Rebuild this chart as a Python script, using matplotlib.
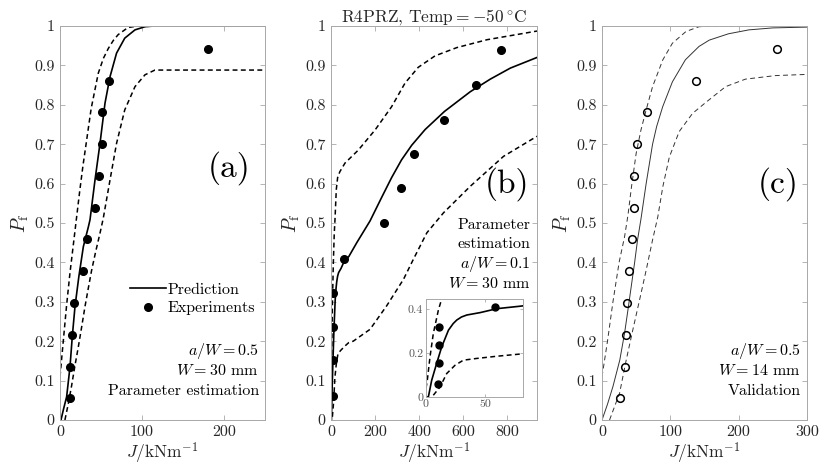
import numpy as np
import matplotlib
matplotlib.use('Agg')
import matplotlib.pyplot as plt

plt.rcParams['font.family'] = 'serif'
plt.rcParams['font.serif'] = ['cmr10']
plt.rcParams['mathtext.fontset'] = 'cm'
plt.rcParams['axes.formatter.use_mathtext'] = True
plt.rcParams['font.size'] = 10

# ---- (a) parameter estimation, a/W = 0.5, W = 30 mm
a_exp_J = [11.8, 12.7, 14.3, 17.1, 27.8, 32.7, 43.3, 47.8, 51.0, 51.4, 60.0, 180.4]
a_exp_P = [0.055, 0.135, 0.216, 0.298, 0.378, 0.459, 0.539, 0.620, 0.700, 0.781, 0.861, 0.942]
a_pred_J = [0, 1.2, 4, 8.1, 12.2, 15, 18.3, 23, 28.5, 34.6, 36.6, 42.7, 48.8, 54.9, 61, 69, 79, 91.5, 103.7, 115.8, 130, 250]
a_pred_P = [0, 0, 0.025, 0.059, 0.135, 0.212, 0.288, 0.364, 0.44, 0.49, 0.508, 0.609, 0.702, 0.804, 0.871, 0.931, 0.969, 0.99, 0.998, 1.0, 1.0, 1.0]
a_up_J = [0, 4, 8, 12, 16, 20, 24, 28, 32.5, 38, 46.7, 53, 59, 65, 71, 83, 95, 250]
a_up_P = [0.11, 0.2, 0.29, 0.37, 0.44, 0.51, 0.58, 0.645, 0.71, 0.79, 0.88, 0.918, 0.943, 0.963, 0.978, 0.996, 1.0, 1.0]
a_lo_J = [6, 10, 14, 18, 22.4, 26.5, 30.5, 34.5, 38.6, 43.5, 48.8, 52.8, 61, 69, 79, 91.5, 103.7, 115.8, 130, 250]
a_lo_P = [0, 0.04, 0.085, 0.135, 0.186, 0.237, 0.288, 0.334, 0.38, 0.427, 0.474, 0.512, 0.609, 0.702, 0.787, 0.846, 0.876, 0.888, 0.888, 0.888]

# ---- (b) parameter estimation, a/W = 0.1, W = 30 mm
b_exp_J = [10, 11, 11, 11, 58, 240, 318, 375, 515, 658, 772]
b_exp_P = [0.061, 0.153, 0.237, 0.321, 0.409, 0.500, 0.588, 0.674, 0.762, 0.850, 0.938]
b_pred_J = [0, 2, 4.8, 9, 13.3, 19, 23, 26, 30, 34.5, 45.8, 60, 81, 117, 177, 230, 275, 320, 366, 427, 515, 632, 723, 814, 935]
b_pred_P = [0, 0, 0.076, 0.153, 0.229, 0.305, 0.335, 0.351, 0.365, 0.374, 0.385, 0.403, 0.415, 0.45, 0.505, 0.565, 0.615, 0.66, 0.697, 0.737, 0.783, 0.833, 0.865, 0.893, 0.92]
b_up_J = [0, 1.1, 3.4, 6.2, 10.5, 14.7, 18, 24, 30, 40, 63.5, 124, 200, 275, 336, 396, 472, 571, 708, 935]
b_up_P = [0.04, 0.076, 0.183, 0.29, 0.397, 0.473, 0.508, 0.585, 0.615, 0.63, 0.652, 0.685, 0.736, 0.795, 0.855, 0.895, 0.924, 0.945, 0.965, 0.987]
b_lo_J = [6.2, 11.9, 17.5, 24.6, 31.6, 43, 60, 79.7, 101, 177, 253, 329, 374, 435, 511, 632, 783, 935]
b_lo_P = [0.008, 0.046, 0.107, 0.145, 0.168, 0.176, 0.186, 0.196, 0.2, 0.23, 0.29, 0.357, 0.408, 0.475, 0.526, 0.593, 0.669, 0.72]

# ---- (c) validation, a/W = 0.5, W = 14 mm
c_exp_J = [26.7, 34.0, 34.5, 36.9, 39.8, 43.2, 46.6, 46.6, 51.5, 65.5, 137.0, 256.0]
c_exp_P = [0.055, 0.135, 0.216, 0.298, 0.378, 0.459, 0.539, 0.620, 0.700, 0.781, 0.861, 0.942]
c_pred_J = [0, 8, 16, 26, 33, 38, 42.7, 47.6, 52, 57, 64.6, 74, 80, 88.8, 103, 122, 142, 157, 185, 215, 250, 300]
c_pred_P = [0, 0.04, 0.085, 0.152, 0.22, 0.28, 0.338, 0.398, 0.457, 0.51, 0.6, 0.7, 0.745, 0.795, 0.858, 0.914, 0.948, 0.964, 0.98, 0.99, 0.995, 0.997]
c_up_J = [0, 8, 16, 25, 33, 38, 43, 50, 57, 64.6, 74, 89, 103, 123, 142, 170, 300]
c_up_P = [0.11, 0.2, 0.3, 0.4, 0.465, 0.52, 0.59, 0.677, 0.736, 0.787, 0.846, 0.914, 0.956, 0.986, 0.998, 1.0, 1.0]
c_lo_J = [11, 25.7, 35.4, 45, 55, 64.6, 74, 81.6, 89, 98.5, 113, 132.5, 152, 181, 210, 254, 300]
c_lo_P = [0, 0.068, 0.152, 0.228, 0.305, 0.38, 0.457, 0.515, 0.592, 0.667, 0.732, 0.778, 0.806, 0.846, 0.865, 0.874, 0.877]

yticks = np.arange(0, 1.01, 0.1)
yticklabels = ['0', '0.1', '0.2', '0.3', '0.4', '0.5', '0.6', '0.7', '0.8', '0.9', '1']

frame = '#a8a8a8'
tcol = '#262626'
dash = (3.2, 2.2)


def style(ax, xlim, xticks):
    ax.set_xlim(xlim)
    ax.set_ylim(0, 1)
    ax.set_xticks(xticks)
    ax.set_xticklabels([str(t) for t in xticks])
    ax.set_yticks(yticks)
    ax.set_yticklabels(yticklabels)
    ax.tick_params(direction='in', top=True, right=True, length=3.5, width=0.6,
                   colors=frame, labelcolor=tcol, labelsize=11.5, pad=4)
    for s in ax.spines.values():
        s.set_color(frame)
        s.set_linewidth(0.7)
    ax.set_xlabel(r'$J/\mathrm{kNm}^{-1}$', fontsize=12.5, color=tcol, labelpad=1)
    ax.set_ylabel(r'$P_\mathrm{f}$', fontsize=14, color=tcol, labelpad=2)


fig = plt.figure(figsize=(8.23, 4.68), dpi=100)

# (a)
ax1 = fig.add_axes([0.0729, 0.1026, 0.249, 0.842])
ax1.plot(a_up_J, a_up_P, 'k', ls='--', dashes=dash, lw=1.1)
ax1.plot(a_lo_J, a_lo_P, 'k', ls='--', dashes=dash, lw=1.1)
ln, = ax1.plot(a_pred_J, a_pred_P, 'k-', lw=1.2, label='Prediction')
pt, = ax1.plot(a_exp_J, a_exp_P, 'ko', ms=5.5, ls='none', label='Experiments')
style(ax1, (0, 250), [0, 100, 200])
ax1.legend(handles=[ln, pt], loc='center right', bbox_to_anchor=(1.02, 0.307),
           frameon=False, fontsize=11.5, handlelength=2.2, handletextpad=0.1,
           labelspacing=0.25)
ax1.text(0.93, 0.64, '(a)', transform=ax1.transAxes, ha='right', va='center', fontsize=24)
ax1.text(0.97, 0.175, r'$a/W=0.5$', transform=ax1.transAxes, ha='right', va='center', fontsize=11.5)
ax1.text(0.97, 0.125, r'$W=30$ mm', transform=ax1.transAxes, ha='right', va='center', fontsize=11.5)
ax1.text(0.97, 0.073, 'Parameter estimation', transform=ax1.transAxes, ha='right', va='center', fontsize=11.5)

# (b)
ax2 = fig.add_axes([0.4022, 0.1026, 0.2503, 0.842])
ax2.plot(b_up_J, b_up_P, 'k', ls='--', dashes=dash, lw=1.1)
ax2.plot(b_lo_J, b_lo_P, 'k', ls='--', dashes=dash, lw=1.1)
ax2.plot(b_pred_J, b_pred_P, 'k-', lw=1.2)
ax2.plot(b_exp_J, b_exp_P, 'ko', ms=5.5, ls='none')
style(ax2, (0, 935), [0, 200, 400, 600, 800])
ax2.set_title(r'R4PRZ, Temp$= -50\,^{\circ}$C', fontsize=12.5, color=tcol, pad=3)
ax2.text(0.96, 0.60, '(b)', transform=ax2.transAxes, ha='right', va='center', fontsize=24)
for i, s in enumerate(['Parameter', 'estimation', r'$a/W=0.1$', r'$W=30$ mm']):
    ax2.text(0.97, 0.494 - i * 0.049, s, transform=ax2.transAxes, ha='right', va='center', fontsize=11.5)

# inset of (b), near-zero region
axi = fig.add_axes([0.5176, 0.1517, 0.1179, 0.2094])
axi.plot(b_up_J, b_up_P, 'k', ls='--', dashes=dash, lw=1.1)
axi.plot(b_lo_J, b_lo_P, 'k', ls='--', dashes=dash, lw=1.1)
axi.plot(b_pred_J, b_pred_P, 'k-', lw=1.2)
axi.plot(b_exp_J, b_exp_P, 'ko', ms=5, ls='none')
axi.set_xlim(0, 82)
axi.set_ylim(0, 0.447)
axi.set_xticks([0, 50])
axi.set_xticklabels(['0', '50'])
axi.set_yticks([0, 0.2, 0.4])
axi.set_yticklabels(['0', '0.2', '0.4'])
axi.tick_params(direction='in', top=True, right=True, length=2.5, width=0.6,
                colors=frame, labelcolor='#555555', labelsize=8.5, pad=2)
for s in axi.spines.values():
    s.set_color(frame)
    s.set_linewidth(0.7)

# (c)
ax3 = fig.add_axes([0.7315, 0.1026, 0.249, 0.842])
ax3.plot(c_up_J, c_up_P, color='0.2', ls='--', dashes=(5, 3.5), lw=0.7)
ax3.plot(c_lo_J, c_lo_P, color='0.2', ls='--', dashes=(5, 3.5), lw=0.7)
ax3.plot(c_pred_J, c_pred_P, color='0.2', ls='-', lw=0.7)
ax3.plot(c_exp_J, c_exp_P, 'o', mfc='none', mec='k', mew=1.1, ms=5.5, ls='none')
style(ax3, (0, 300), [0, 100, 200, 300])
ax3.text(0.96, 0.60, '(c)', transform=ax3.transAxes, ha='right', va='center', fontsize=24)
ax3.text(0.97, 0.175, r'$a/W=0.5$', transform=ax3.transAxes, ha='right', va='center', fontsize=11.5)
ax3.text(0.97, 0.125, r'$W=14$ mm', transform=ax3.transAxes, ha='right', va='center', fontsize=11.5)
ax3.text(0.97, 0.073, 'Validation', transform=ax3.transAxes, ha='right', va='center', fontsize=11.5)

fig.savefig('out.png', dpi=100)
